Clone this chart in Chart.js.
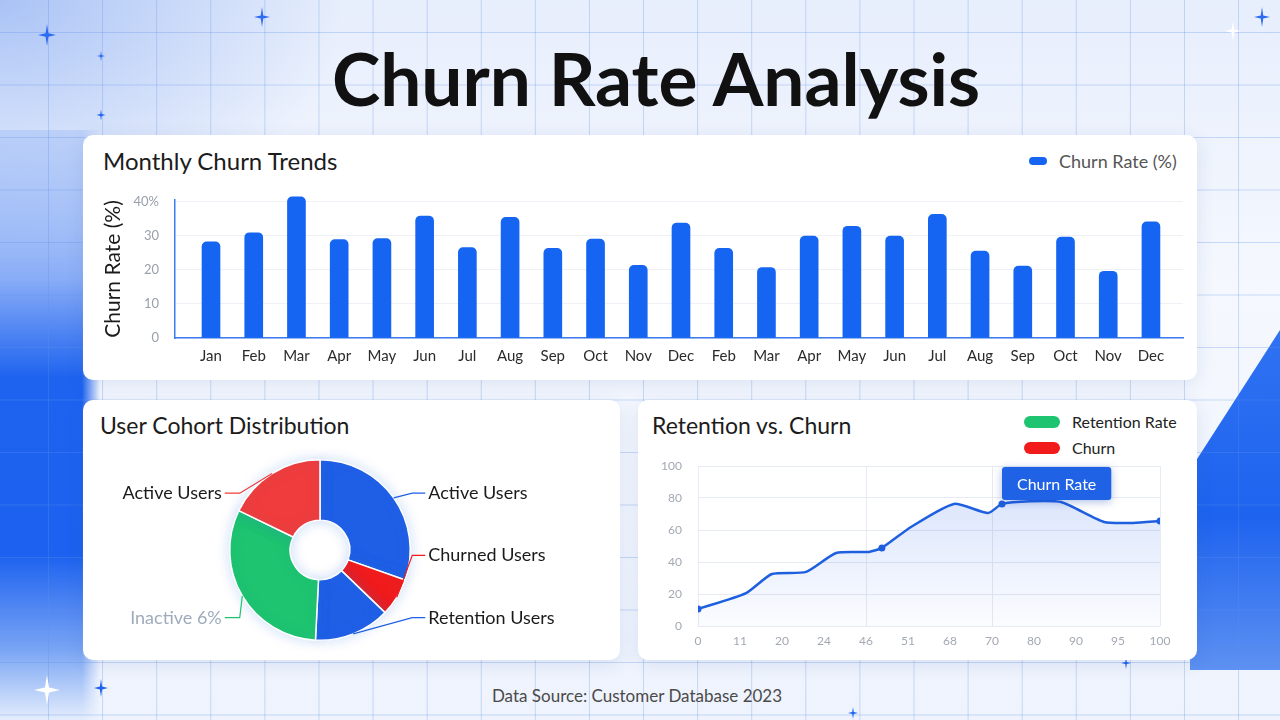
<!DOCTYPE html>
<html lang="en">
<head>
<meta charset="utf-8">
<title>Churn Rate Analysis</title>
<script src="https://cdn.jsdelivr.net/npm/chart.js@4.4.1/dist/chart.umd.min.js"></script>
<style>
  html, body { margin: 0; padding: 0; }
  body {
    width: 1280px; height: 720px; position: relative; overflow: hidden;
    font-family: Lato, "Open Sans", sans-serif; color: #1b1b1b;
    background:
      radial-gradient(ellipse 460px 320px at 0 0, rgba(70,125,235,0.38), rgba(70,125,235,0) 75%),
      linear-gradient(180deg, #e7eefc 0%, #f5f8fe 40%, #eef3fd 100%);
  }
  .abs { position: absolute; }
  #blueLeft {
    left: 0; top: 130px; width: 100px; height: 590px;
    background: linear-gradient(180deg, rgba(60,120,240,0.15) 0%, rgba(50,112,240,0.55) 25%, #1e63ef 42%, #1c61ef 72%, rgba(70,130,240,0.7) 88%, rgba(200,220,250,0.25) 100%);
    -webkit-mask-image: linear-gradient(90deg, #000 82%, transparent 100%);
  }
  #blueRight {
    left: 1190px; top: 330px; width: 90px; height: 340px;
    clip-path: polygon(0 140px, 100% 0, 100% 100%, 0 100%);
    background: linear-gradient(180deg, #2f72f2 0%, #1e63ef 55%, #5d91f2 100%);
  }
  #grid {
    left: 0; top: 0; width: 1280px; height: 720px;
    background-image:
      linear-gradient(90deg, rgba(95,145,232,0.30) 1px, transparent 1px),
      linear-gradient(180deg, rgba(95,145,232,0.30) 1px, transparent 1px);
    background-size: 54.1px 52.5px;
    background-position: 48px 32px;
  }
  .star {
    clip-path: polygon(50% 0, 58% 42%, 100% 50%, 58% 58%, 50% 100%, 42% 58%, 0 50%, 42% 42%);
    transform: translate(-50%, -50%);
  }
  .card {
    background: #ffffff; border-radius: 10px;
    box-shadow: 0 4px 18px rgba(40,80,160,0.12);
  }
  h1 {
    position: absolute; margin: 0; left: 656px; top: 78px;
    transform: translate(-50%, -50%);
    font-size: 73px; font-weight: 700; color: #111; white-space: nowrap; line-height: 1;
  }
  .cardTitle { position: absolute; font-size: 23px; line-height: 24px; color: #1c1c1c; white-space: nowrap; }
  .legend { position: absolute; line-height: 20px; white-space: nowrap; display: flex; align-items: center; }
  .swatch { display: inline-block; border-radius: 6px; margin-right: 12px; }
  canvas { position: absolute; }
  #footer { position: absolute; left: 637px; top: 695px; transform: translate(-50%, -50%); font-size: 17px; color: #4a4a4a; white-space: nowrap; }
</style>
</head>
<body>
<div id="blueLeft" class="abs"></div>
<div id="blueRight" class="abs"></div>
<div id="grid" class="abs"></div>

<div class="abs star" style="left:47px;top:35px;width:18px;height:22px;background:#2d6cf0"></div>
<div class="abs star" style="left:262px;top:17px;width:16px;height:20px;background:#2d6cf0"></div>
<div class="abs star" style="left:1262px;top:17px;width:16px;height:20px;background:#2d6cf0"></div>
<div class="abs star" style="left:1233px;top:31px;width:16px;height:20px;background:#ffffff"></div>
<div class="abs star" style="left:47px;top:690px;width:26px;height:30px;background:#ffffff"></div>
<div class="abs star" style="left:101px;top:688px;width:14px;height:18px;background:#1e63ef"></div>
<div class="abs star" style="left:853px;top:713px;width:10px;height:12px;background:#1e63ef"></div>
<div class="abs star" style="left:1126px;top:663px;width:10px;height:12px;background:#1e63ef"></div>
<div class="abs star" style="left:101px;top:56px;width:8px;height:10px;background:#1e63ef"></div>
<div class="abs star" style="left:101px;top:115px;width:9px;height:11px;background:#1e63ef"></div>

<h1>Churn Rate Analysis</h1>

<div class="abs card" style="left:83px;top:135px;width:1114px;height:245px"></div>
<div class="abs card" style="left:83px;top:400px;width:537px;height:260px"></div>
<div class="abs card" style="left:638px;top:400px;width:559px;height:260px"></div>

<div class="cardTitle" style="left:103px;top:149px;font-size:24px">Monthly Churn Trends</div>
<div class="cardTitle" style="left:100px;top:413px">User Cohort Distribution</div>
<div class="cardTitle" style="left:652px;top:413px">Retention vs. Churn</div>

<div class="legend" style="left:1029px;top:151px;color:#555;font-size:18px">
  <span class="swatch" style="width:18px;height:8px;background:#1565f2;border-radius:4px"></span>Churn Rate (%)
</div>
<div class="legend" style="left:1024px;top:412px;color:#222;font-size:16px">
  <span class="swatch" style="width:36px;height:12px;background:#1ec46f"></span>Retention Rate
</div>
<div class="legend" style="left:1024px;top:438px;color:#222;font-size:16px">
  <span class="swatch" style="width:36px;height:12px;background:#f21b1b"></span>Churn
</div>

<canvas id="barChart" width="1100" height="185" style="left:93px;top:190px"></canvas>
<canvas id="pieChart" width="537" height="220" style="left:83px;top:440px"></canvas>
<canvas id="lineChart" width="540" height="200" style="left:640px;top:455px"></canvas>

<div id="footer">Data Source: Customer Database 2023</div>

<script>
// monthly churn, two years of months
const months = ['Jan', 'Feb', 'Mar', 'Apr', 'May', 'Jun', 'Jul', 'Aug', 'Sep', 'Oct', 'Nov', 'Dec',
                'Feb', 'Mar', 'Apr', 'May', 'Jun', 'Jul', 'Aug', 'Sep', 'Oct', 'Nov', 'Dec'];
const churnRate = [28.2, 30.9, 41.4, 28.9, 29.2, 35.8, 26.5, 35.4, 26.3, 29.0, 21.3, 33.7,
                   26.3, 20.7, 29.9, 32.8, 29.9, 36.3, 25.5, 21.1, 29.6, 19.6, 34.1];
const churnTicks = [0, 10, 20, 30, 40];
const churnTickLabels = ['0', '10', '20', '30', '40%'];

// cohort doughnut, clockwise from the top
const cohortLabels = ['Active Users', 'Churned Users', 'Retention Users', 'Inactive 6%', 'Active Users'];
const cohortShare = [30.4, 6.8, 13.6, 31.4, 17.8];
const cohortColors = ['#1f5fe6', '#f21b1b', '#1f5fe6', '#1ec46f', '#f03c3c'];

// retention vs churn line
const retentionX = [0, 10.4, 16, 23.4, 29.9, 37, 39.8, 46.1, 55.4, 62.8, 65.8, 71.9, 78.6, 87.9, 94.2, 100];
const retentionY = [10.6, 20.6, 32.5, 33.8, 45.6, 46.3, 48.8, 61.9, 76.3, 70.6, 76.3, 78, 77.5, 65, 64.4, 65.6];
const retentionTickLabels = ['0', '11', '20', '24', '46', '51', '68', '70', '80', '90', '95', '100'];
const retentionYTicks = [0, 20, 40, 60, 80, 100];
const markedPoints = [0, 6, 10, 15];
const calloutIndex = 10;
const calloutText = 'Churn Rate';

Chart.defaults.font.family = 'Lato, "Open Sans", sans-serif';

// fixed axis sizes so the plot lands where the card expects it
function fixSize(prop, size) {
    return s => {
        s[prop] = size;
        s.paddingTop = 0; s.paddingBottom = 0; s.paddingLeft = 0; s.paddingRight = 0;
    };
}

new Chart(document.getElementById('barChart'), {
    type: 'bar',
    data: {
        datasets: [{
            label: 'Churn Rate (%)',
            data: churnRate.map((v, i) => ({ x: i + 1, y: v })),
            backgroundColor: '#1565f2',
            barThickness: 18,
            borderRadius: { topLeft: 5, topRight: 5 },
            clip: false
        }]
    },
    options: {
        responsive: false,
        animation: false,
        layout: { padding: { top: 10, right: 10 } },
        plugins: { legend: { display: false }, tooltip: { enabled: false } },
        scales: {
            x: {
                type: 'linear',
                min: 0.157,
                max: 23.75,
                offset: false,
                afterBuildTicks: s => { s.ticks = months.map((m, i) => ({ value: i + 1 })); },
                afterFit: fixSize('height', 37),
                grid: { display: false, drawTicks: false, offset: false },
                border: { color: '#3c7cf0', width: 1.5 },
                ticks: {
                    autoSkip: false, maxRotation: 0, padding: 9,
                    color: '#2b2b2b', font: { size: 15 },
                    callback: v => months[Math.round(v) - 1]
                }
            },
            y: {
                min: 0,
                max: 40.5,
                afterBuildTicks: s => { s.ticks = churnTicks.map(v => ({ value: v })); },
                afterFit: fixSize('width', 82),
                grid: { color: '#eef1f6', drawTicks: false },
                border: { color: '#3c7cf0', width: 1.5 },
                ticks: {
                    padding: 16, color: '#9aa0aa', font: { size: 13 },
                    callback: (v, i) => churnTickLabels[i]
                },
                title: {
                    display: true, text: 'Churn Rate (%)', color: '#1b1b1b',
                    font: { size: 21 }, padding: { top: 8 }
                }
            }
        }
    }
});

// labels beside the doughnut, spread down each side
const calloutPlugin = {
    id: 'callouts',
    afterDatasetsDraw(chart) {
        const ctx = chart.ctx;
        const arcs = chart.getDatasetMeta(0).data;
        const items = arcs.map((arc, i) => {
            const mid = (arc.startAngle + arc.endAngle) / 2;
            return {
                i, cx: arc.x, cy: arc.y, r: arc.outerRadius,
                px: arc.x + arc.outerRadius * Math.cos(mid),
                py: arc.y + arc.outerRadius * Math.sin(mid),
                right: Math.cos(mid) >= 0
            };
        });
        [true, false].forEach(side => {
            const group = items.filter(it => it.right === side).sort((a, b) => a.py - b.py);
            group.forEach((it, k) => {
                const top = it.cy - 0.63 * it.r, bottom = it.cy + 0.75 * it.r;
                const ty = group.length > 1 ? top + k * (bottom - top) / (group.length - 1) : it.py;
                const tx = side ? it.cx + it.r + 18 : it.cx - it.r - 8;
                const bx = side ? tx - 16 : tx + 18;
                ctx.save();
                ctx.strokeStyle = cohortColors[it.i];
                ctx.lineWidth = 1.2;
                ctx.beginPath();
                ctx.moveTo(it.px, it.py);
                ctx.lineTo(bx, ty);
                ctx.lineTo(side ? tx - 3 : tx + 3, ty);
                ctx.stroke();
                ctx.font = '18px Lato, sans-serif';
                ctx.fillStyle = it.i === 3 ? '#9fabbd' : '#1a1a1a';
                ctx.textAlign = side ? 'left' : 'right';
                ctx.textBaseline = 'middle';
                ctx.fillText(cohortLabels[it.i], tx, ty);
                ctx.restore();
            });
        });
    }
};

const glowPlugin = {
    id: 'glow',
    beforeDatasetsDraw(chart) {
        chart.ctx.save();
        chart.ctx.shadowColor = 'rgba(40,120,220,0.22)';
        chart.ctx.shadowBlur = 14;
    },
    afterDatasetsDraw(chart) {
        chart.ctx.restore();
    }
};

new Chart(document.getElementById('pieChart'), {
    type: 'doughnut',
    data: {
        labels: cohortLabels,
        datasets: [{
            data: cohortShare,
            backgroundColor: cohortColors,
            borderColor: '#ffffff',
            borderWidth: 1.5
        }]
    },
    options: {
        responsive: false,
        animation: false,
        cutout: '33%',
        layout: { padding: { left: 0, right: 63, top: 19, bottom: 19 } },
        plugins: { legend: { display: false }, tooltip: { enabled: false } }
    },
    plugins: [glowPlugin, calloutPlugin]
});

// blue tag above one point of the line
const tagPlugin = {
    id: 'churnTag',
    afterDatasetsDraw(chart) {
        const p = chart.getDatasetMeta(0).data[calloutIndex];
        const ctx = chart.ctx;
        ctx.save();
        ctx.font = '16px Lato, sans-serif';
        const w = ctx.measureText(calloutText).width + 30, h = 33;
        const x = p.x, y = p.y - h - 4;
        ctx.shadowColor = 'rgba(20,70,180,0.35)';
        ctx.shadowBlur = 8;
        ctx.shadowOffsetY = 2;
        ctx.fillStyle = '#1f62e6';
        ctx.beginPath();
        ctx.roundRect(x, y, w, h, 3);
        ctx.fill();
        ctx.shadowColor = 'transparent';
        ctx.fillStyle = '#ffffff';
        ctx.textBaseline = 'middle';
        ctx.fillText(calloutText, x + 15, y + h / 2 + 1);
        ctx.restore();
    }
};

const xGridAt = [0, 4, 7, 11];

new Chart(document.getElementById('lineChart'), {
    type: 'line',
    data: {
        datasets: [{
            label: 'Churn Rate',
            data: retentionX.map((x, i) => ({ x, y: retentionY[i] })),
            borderColor: '#1e5fe0',
            borderWidth: 2.5,
            tension: 0.2,
            fill: 'origin',
            backgroundColor: c => {
                const area = c.chart.chartArea;
                if (!area) return 'rgba(40,100,235,0.1)';
                const g = c.chart.ctx.createLinearGradient(0, area.top, 0, area.bottom);
                g.addColorStop(0, 'rgba(40,100,235,0.20)');
                g.addColorStop(1, 'rgba(40,100,235,0.02)');
                return g;
            },
            pointRadius: c => markedPoints.includes(c.dataIndex) ? 3.5 : 0,
            pointBackgroundColor: '#1e5fe0',
            pointBorderWidth: 0
        }]
    },
    options: {
        responsive: false,
        animation: false,
        layout: { padding: { top: 11, right: 20 } },
        plugins: { legend: { display: false }, tooltip: { enabled: false } },
        scales: {
            x: {
                type: 'linear', min: 0, max: 100,
                afterBuildTicks: s => {
                    s.ticks = retentionTickLabels.map((t, i) => ({ value: i * 100 / (retentionTickLabels.length - 1) }));
                },
                afterFit: fixSize('height', 29),
                grid: { color: c => xGridAt.includes(c.index) ? '#e6eaf2' : 'rgba(0,0,0,0)', drawTicks: false },
                border: { display: false },
                ticks: {
                    autoSkip: false, maxRotation: 0, padding: 8,
                    color: '#a3a9b3', font: { size: 12 },
                    callback: (v, i) => retentionTickLabels[i]
                }
            },
            y: {
                min: 0, max: 100,
                afterBuildTicks: s => { s.ticks = retentionYTicks.map(v => ({ value: v })); },
                afterFit: fixSize('width', 58),
                grid: { color: '#e6eaf2', drawTicks: false },
                border: { display: false },
                ticks: { padding: 16, color: '#a3a9b3', font: { size: 12 } }
            }
        }
    },
    plugins: [tagPlugin]
});
</script>
</body>
</html>
